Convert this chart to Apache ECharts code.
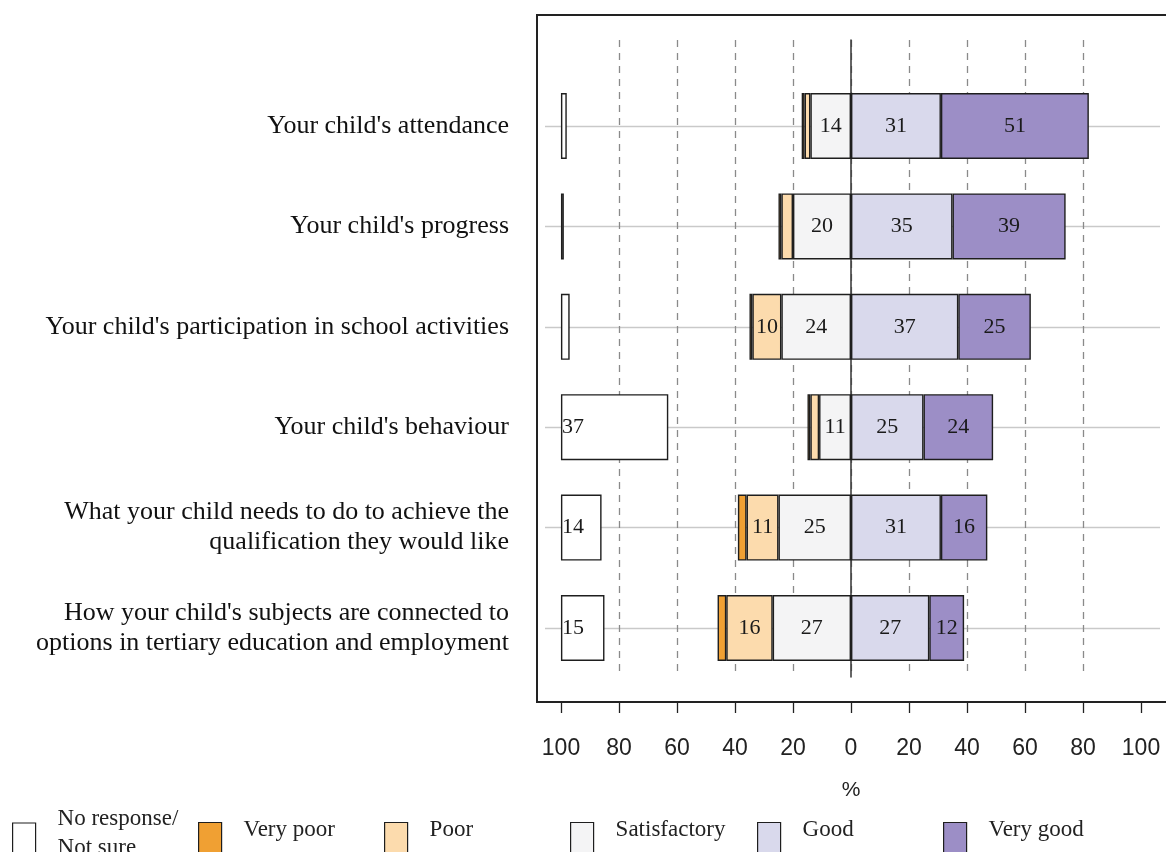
<!DOCTYPE html>
<html>
<head>
<meta charset="utf-8">
<script src="https://cdn.jsdelivr.net/npm/echarts@6/dist/echarts.min.js"></script>
<style>html,body{margin:0;padding:0;background:#fff;}#c{width:1166px;height:852px;}</style>
</head>
<body>
<div id="c"></div>
<script>
const categories = [
  "Your child's attendance",
  "Your child's progress",
  "Your child's participation in school activities",
  "Your child's behaviour",
  "What your child needs to do to achieve the\nqualification they would like",
  "How your child's subjects are connected to\noptions in tertiary education and employment"
];
const noResponse   = [2, 1, 3, 37, 14, 15];
const veryPoor     = [1, 1, 1, 1, 3, 3];
const poor         = [2, 4, 10, 3, 11, 16];
const satisfactory = [14, 20, 24, 11, 25, 27];
const good         = [31, 35, 37, 25, 31, 27];
const veryGood     = [51, 39, 25, 24, 16, 12];
const legendNames  = ['No response/ Not sure', 'Very poor', 'Poor', 'Satisfactory', 'Good', 'Very good'];
const axisMin = -100, axisMax = 100, axisStep = 20;

const colors = {
  'No response/ Not sure': '#ffffff',
  'Very poor': '#F0A033',
  'Poor': '#FCDBAD',
  'Satisfactory': '#F4F4F5',
  'Good': '#D9D9EC',
  'Very good': '#9C8EC6'
};
const serif = '"Liberation Serif", "Times New Roman", serif';
const sans = '"Liberation Sans", Arial, sans-serif';
const border = '#1e1e1e';

function lbl(pos) {
  return {
    show: true, position: pos || 'inside', distance: 1,
    fontFamily: serif, fontSize: 22, color: '#1a1a1a',
    formatter: p => Math.abs(p.value) >= 5 ? String(Math.abs(p.value)) : ''
  };
}
function barSeries(name, data, stack, labelPos, strategy) {
  const s = {
    type: 'bar', name, data, stack, xAxisIndex: 0, yAxisIndex: 0,
    barWidth: 66, barGap: '-100%',
    itemStyle: { color: colors[name], borderColor: border, borderWidth: 1.4 },
    label: lbl(labelPos), silent: true, z: 3
  };
  if (strategy) s.stackStrategy = strategy;
  return s;
}

const series = [
  {
    type: 'bar', name: 'base', data: categories.map(() => axisMin), stack: 'nr', stackStrategy: 'all',
    xAxisIndex: 0, yAxisIndex: 0, barWidth: 66, barGap: '-100%',
    itemStyle: { color: 'transparent', borderWidth: 0 }, silent: true, z: 3
  },
  barSeries('No response/ Not sure', noResponse, 'nr', 'insideLeft', 'all'),
  barSeries('Satisfactory', satisfactory.map(v => -v), 'main'),
  barSeries('Poor', poor.map(v => -v), 'main'),
  barSeries('Very poor', veryPoor.map(v => -v), 'main'),
  barSeries('Good', good, 'main'),
  barSeries('Very good', veryGood, 'main')
];

const legendX = [12, 198, 384, 570, 757, 943];
const legends = legendNames.map((n, i) => {
  const two = n === 'No response/ Not sure';
  return {
    data: [n], left: legendX[i], top: two ? 807.5 : 818, orient: 'horizontal', padding: 0,
    selectedMode: false, icon: 'rect', itemWidth: 23, itemHeight: 34,
    itemStyle: { borderColor: border, borderWidth: 1.2 },
    formatter: name => two ? '{a|No response/}\n{a|Not sure}\n{b| }' : '{a|' + name + '}\n{c| }',
    textStyle: {
      fontFamily: serif, fontSize: 23, color: '#222', padding: [0, 0, 0, 17],
      rich: {
        a: { fontFamily: serif, fontSize: 23, color: '#222', lineHeight: 29 },
        b: { fontSize: 10, lineHeight: 13 },
        c: { fontSize: 10, lineHeight: 20 }
      }
    }
  };
});

const option = {
  backgroundColor: '#fff',
  animation: false,
  legend: legends,
  grid: [
    { left: 545, right: 9, top: 75.8, bottom: 173.8 },
    { left: 561, right: 25, top: 40, bottom: 175 },
    { left: 545, right: 6, top: 126, bottom: 224 },
    { left: 561, right: 25, top: 40, bottom: 150 }
  ],
  xAxis: [
    { gridIndex: 0, type: 'value', min: -105.5, max: 105.5, show: false },
    {
      gridIndex: 1, type: 'value', min: axisMin, max: axisMax, interval: axisStep,
      axisLine: { show: false }, axisTick: { show: false }, axisLabel: { show: false },
      splitLine: { show: true, showMinLine: false, showMaxLine: false, lineStyle: { color: '#8a8a8a', type: [7, 6], width: 1.3 } }
    },
    { gridIndex: 2, type: 'value', min: 0, max: 1, show: false },
    {
      gridIndex: 3, type: 'value', min: axisMin, max: axisMax, interval: axisStep,
      axisLine: { show: false },
      axisTick: { show: true, length: 11, lineStyle: { color: '#222', width: 1.3 } },
      axisLabel: { fontFamily: sans, fontSize: 23, color: '#222', margin: 35, formatter: v => String(Math.abs(v)) },
      splitLine: { show: false },
      name: '%', nameLocation: 'middle', nameGap: 78,
      nameTextStyle: { fontFamily: sans, fontSize: 21, color: '#222' }
    }
  ],
  yAxis: [
    {
      gridIndex: 0, type: 'category', data: categories, inverse: true,
      axisLine: { show: false }, axisTick: { show: false }, splitLine: { show: false },
      axisLabel: { fontFamily: serif, fontSize: 26, color: '#111', margin: 36, lineHeight: 30, align: 'right' }
    },
    {
      gridIndex: 1, type: 'value', min: 0, max: 1,
      axisLine: { show: true, onZero: true, lineStyle: { color: '#333', width: 1.5 } },
      axisTick: { show: false }, axisLabel: { show: false }, splitLine: { show: false }
    },
    {
      gridIndex: 2, type: 'value', min: 0, max: 5, interval: 1,
      axisLine: { show: false }, axisTick: { show: false }, axisLabel: { show: false },
      splitLine: { show: true, lineStyle: { color: '#c9c9c9', width: 1.3 } }
    },
    { gridIndex: 3, type: 'value', min: 0, max: 1, show: false }
  ],
  graphic: [
    { type: 'rect', shape: { x: 537, y: 15, width: 632, height: 687 }, style: { fill: 'none', stroke: '#222', lineWidth: 2 }, z: 10, silent: true }
  ],
  series
};
const chart = echarts.init(document.getElementById('c'), null, { renderer: 'canvas' });
chart.setOption(option);
</script>
</body>
</html>
